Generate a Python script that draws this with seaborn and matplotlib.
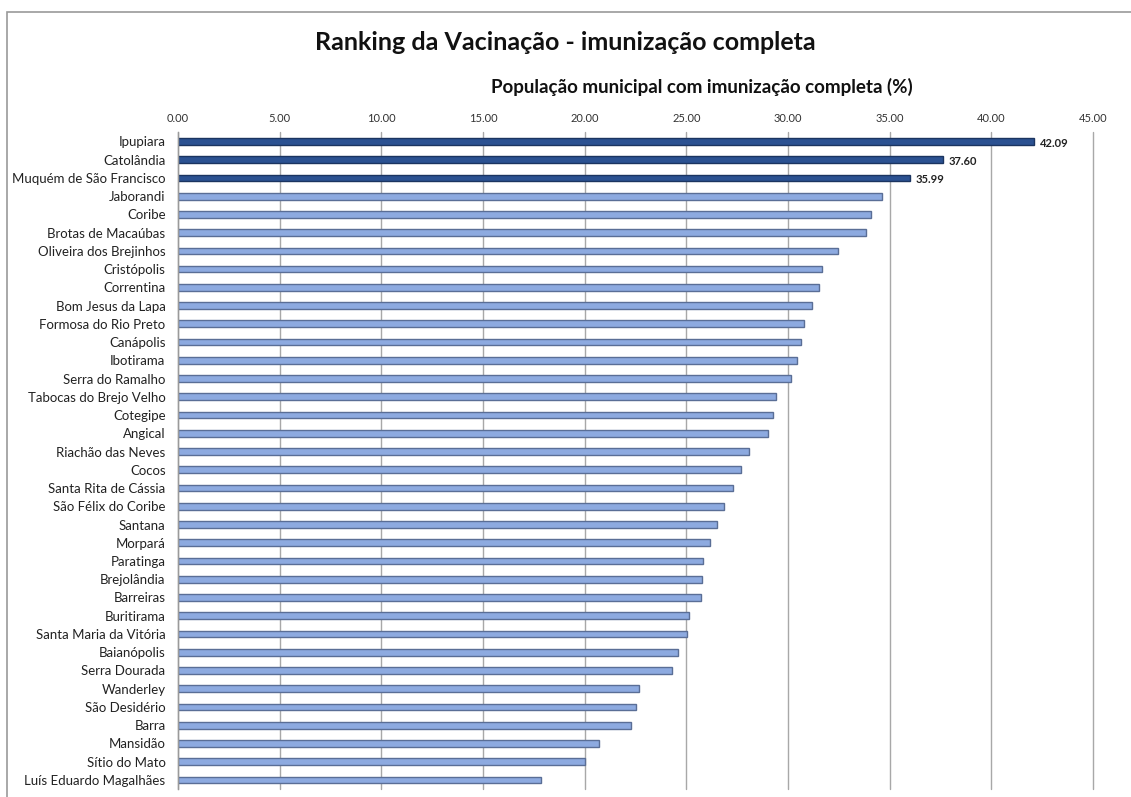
import numpy as np
import pandas as pd
import matplotlib.pyplot as plt
import seaborn as sns
from matplotlib.patches import Rectangle
from matplotlib.ticker import FormatStrFormatter, FixedLocator

municipios = [
    "Ipupiara", "Catolândia", "Muquém de São Francisco", "Jaborandi", "Coribe",
    "Brotas de Macaúbas", "Oliveira dos Brejinhos", "Cristópolis", "Correntina",
    "Bom Jesus da Lapa", "Formosa do Rio Preto", "Canápolis", "Ibotirama",
    "Serra do Ramalho", "Tabocas do Brejo Velho", "Cotegipe", "Angical",
    "Riachão das Neves", "Cocos", "Santa Rita de Cássia", "São Félix do Coribe",
    "Santana", "Morpará", "Paratinga", "Brejolândia", "Barreiras", "Buritirama",
    "Santa Maria da Vitória", "Baianópolis", "Serra Dourada", "Wanderley",
    "São Desidério", "Barra", "Mansidão", "Sítio do Mato", "Luís Eduardo Magalhães",
]
imunizacao = [
    42.09, 37.60, 35.99, 34.60, 34.06,
    33.83, 32.46, 31.68, 31.51,
    31.19, 30.79, 30.66, 30.42,
    30.17, 29.43, 29.27, 29.02,
    28.09, 27.71, 27.30, 26.86,
    26.51, 26.15, 25.82, 25.79, 25.70, 25.12,
    25.04, 24.61, 24.30, 22.66,
    22.50, 22.27, 20.69, 20.00, 17.84,
]
destaque = 3  # top 3 highlighted with labels

sns.set_theme(style="white")
plt.rcParams["font.family"] = ["Lato", "DejaVu Sans"]

df = pd.DataFrame({"municipio": municipios, "valor": imunizacao})
cores = ["#2B5191" if i < destaque else "#8DAAE0" for i in range(len(df))]
bordas = ["#1B3460" if i < destaque else "#5A6E96" for i in range(len(df))]

fig = plt.figure(figsize=(11.31, 7.97), dpi=100)
ax = fig.add_axes([0.1574, 0.010, 0.809, 0.824])

sns.barplot(data=df, x="valor", y="municipio", hue="municipio", palette=cores,
            legend=False, width=0.37, orient="h", ax=ax, saturation=1)
for patch, ec in zip(ax.patches, bordas):
    patch.set_edgecolor(ec)
    patch.set_linewidth(1.0)

ax.set_xlim(0, 45)
ax.set_ylim(len(df) - 0.5, -0.5)
ax.xaxis.tick_top()
ax.xaxis.set_major_locator(FixedLocator(np.arange(0, 46, 5)))
ax.xaxis.set_major_formatter(FormatStrFormatter("%.2f"))
ax.tick_params(axis="x", labelsize=8, length=0, pad=6, colors="#333333")
ax.tick_params(axis="y", which="major", labelsize=9.5, length=0, pad=9, colors="#222222")
ax.yaxis.set_minor_locator(FixedLocator(np.arange(-0.5, len(df), 1)))
ax.tick_params(axis="y", which="minor", length=4, color="#9A9A9A", width=0.8)
ax.set_xlabel("")
ax.set_ylabel("")

ax.grid(axis="x", color="#A8A8A8", linewidth=1)
for gl in ax.get_xgridlines():
    gl.set_clip_on(False)
ax.set_axisbelow(True)
for side in ["top", "right", "bottom"]:
    ax.spines[side].set_visible(False)
ax.spines["left"].set_color("#9A9A9A")
ax.spines["left"].set_linewidth(1)

for i in range(destaque):
    v = df["valor"].iloc[i]
    ax.text(v + 0.3, i + 0.1, f"{v:.2f}", va="center", ha="left",
            fontsize=8, fontweight="bold", color="#222222")

fig.text(0.5, 0.947, "Ranking da Vacinação - imunização completa",
         ha="center", va="center", fontsize=18, fontweight="bold", color="#111111")
fig.text(0.621, 0.891, "População municipal com imunização completa (%)",
         ha="center", va="center", fontsize=13.5, fontweight="bold", color="#111111")

fig.patches.append(Rectangle((7 / 1131, -0.01), 1.02, 1 - 12 / 797 + 0.01,
                             transform=fig.transFigure, fill=False,
                             edgecolor="#9A9A9A", linewidth=1.2))

fig.savefig("out.png", dpi=100)
